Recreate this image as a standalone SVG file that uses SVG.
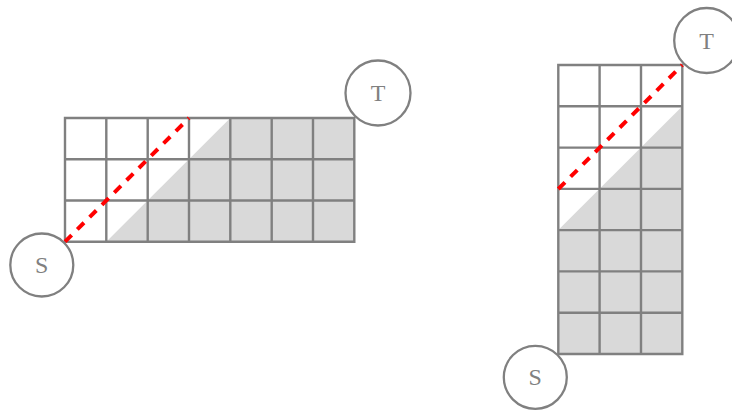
<svg xmlns="http://www.w3.org/2000/svg" width="732" height="412" viewBox="0 0 732 412">
<style>
.fill{fill:#d9d9d9;stroke:none}
.grid{fill:none;stroke:#808080;stroke-width:2.4;stroke-linecap:square}
.path{fill:none;stroke:#ff0000;stroke-width:4;stroke-dasharray:9.4 8}
.node circle{fill:#ffffff;stroke:#808080;stroke-width:2.3}
.node text{fill:#808080;font-family:"Liberation Serif","DejaVu Serif",serif;font-size:24px;text-anchor:middle;dominant-baseline:central}
</style>
<rect width="732" height="412" fill="#ffffff"/>
<g id="left-grid">
<polygon class="fill" points="106.3,241.7 230.3,118 354.3,118 354.3,241.7"/>
<path class="grid" d="M65,118H354.3M65,159.2H354.3M65,200.5H354.3M65,241.7H354.3M65,118V241.7M106.3,118V241.7M147.7,118V241.7M189,118V241.7M230.3,118V241.7M271.7,118V241.7M313,118V241.7M354.3,118V241.7"/>
</g>
<g id="right-grid">
<polygon class="fill" points="558.3,230 682.3,106.3 682.3,354 558.3,354"/>
<path class="grid" d="M558.3,65H682.3M558.3,106.3H682.3M558.3,147.6H682.3M558.3,188.9H682.3M558.3,230.1H682.3M558.3,271.4H682.3M558.3,312.7H682.3M558.3,354H682.3M558.3,65V354M599.6,65V354M641,65V354M682.3,65V354"/>
</g>
<g id="connectors">
<line class="path" x1="65" y1="241.7" x2="189" y2="118"/>
<line class="path" x1="558.3" y1="189" x2="682.3" y2="65"/>
</g>
<g id="S-left" class="node"><circle cx="41.8" cy="265" r="31.5"/><text x="41.8" y="265">S</text></g>
<g id="T-left" class="node"><circle cx="378" cy="93" r="32.5"/><text x="378" y="93">T</text></g>
<g id="S-right" class="node"><circle cx="535.3" cy="377.3" r="31.5"/><text x="535.3" y="377.3">S</text></g>
<g id="T-right" class="node"><circle cx="706.7" cy="40.5" r="32.5"/><text x="706.7" y="40.5">T</text></g>
</svg>
